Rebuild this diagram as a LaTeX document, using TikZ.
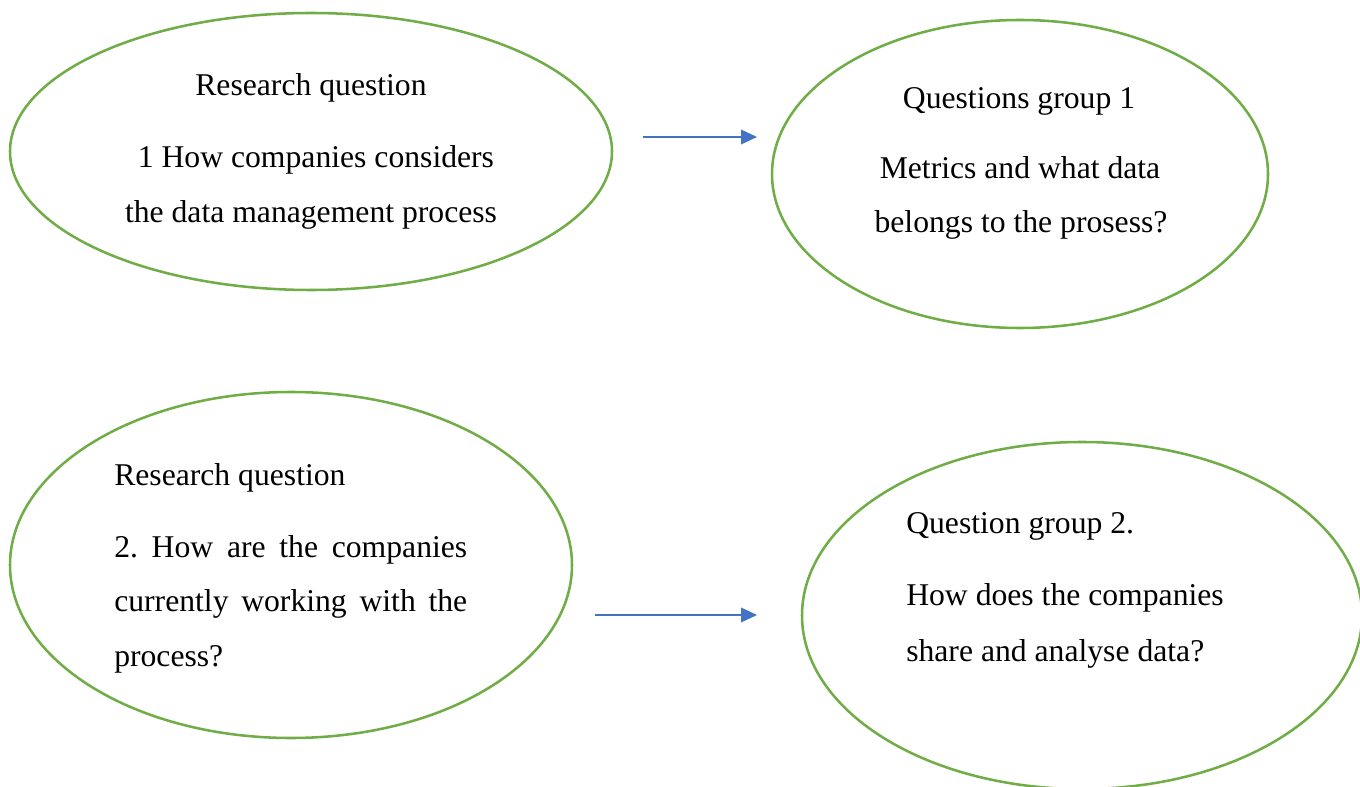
\documentclass[tikz,border=0pt]{standalone}
\usepackage{fontspec}
\setmainfont{Liberation Serif}
\usetikzlibrary{shapes.geometric,arrows.meta}
\definecolor{ogreen}{HTML}{70AD47}
\definecolor{oblue}{HTML}{4472C4}
\tikzset{
  bubble/.style={draw=ogreen, line width=1.9pt, ellipse, inner sep=0pt},
  txt/.style={anchor=base, inner sep=0pt, font=\fontsize{23.75pt}{28pt}\selectfont\frenchspacing},
  ltxt/.style={txt, anchor=base west},
  link/.style={draw=oblue, line width=1.1pt, -{Triangle[length=12pt,width=11pt]}}
}
\begin{document}
\begin{tikzpicture}[x=0.75pt,y=-0.75pt]
\useasboundingbox (0,0) rectangle (1360,787);
% ellipses
\node[bubble, minimum width=451.5pt, minimum height=207.75pt] (e1) at (311,151.5) {};
\node[bubble, minimum width=372pt, minimum height=231pt] (e2) at (1020,174) {};
\node[bubble, minimum width=421.5pt, minimum height=259.5pt] (e3) at (291,565) {};
\node[bubble, minimum width=420pt, minimum height=260.25pt] (e4) at (1082,615.5) {};
% texts top-left
\node[txt] (t1a) at (311,96) {Research question};
\node[txt] (t1b) at (312,168) {\ 1 How companies considers};
\node[txt] (t1c) at (311,223) {the data management process};
% texts top-right
\node[txt] (t2a) at (1019,109) {Questions group 1};
\node[txt] (t2b) at (1020,179) {Metrics and what data};
\node[txt] (t2c) at (1021,233) {belongs to the prosess?};
% texts bottom-left
\node[ltxt] (t3a) at (114,486) {Research question};
\node[ltxt] (t3b) at (114,557) {\makebox[264.75pt][s]{2. How are the companies}};
\node[ltxt] (t3c) at (114,611) {\makebox[264.75pt][s]{currently working with the}};
\node[ltxt] (t3d) at (114,666) {process?};
% texts bottom-right
\node[ltxt] (t4a) at (906,534) {Question group 2.};
\node[ltxt] (t4b) at (906,605) {How does the companies};
\node[ltxt] (t4c) at (906,661) {share and analyse data?};
% arrows
\coordinate (a1s) at (643,137);
\coordinate (a1e) at (757,137);
\coordinate (a2s) at (595,615);
\coordinate (a2e) at (757,615);
\draw[link] (a1s) -- (a1e);
\draw[link] (a2s) -- (a2e);
\end{tikzpicture}
\end{document}
